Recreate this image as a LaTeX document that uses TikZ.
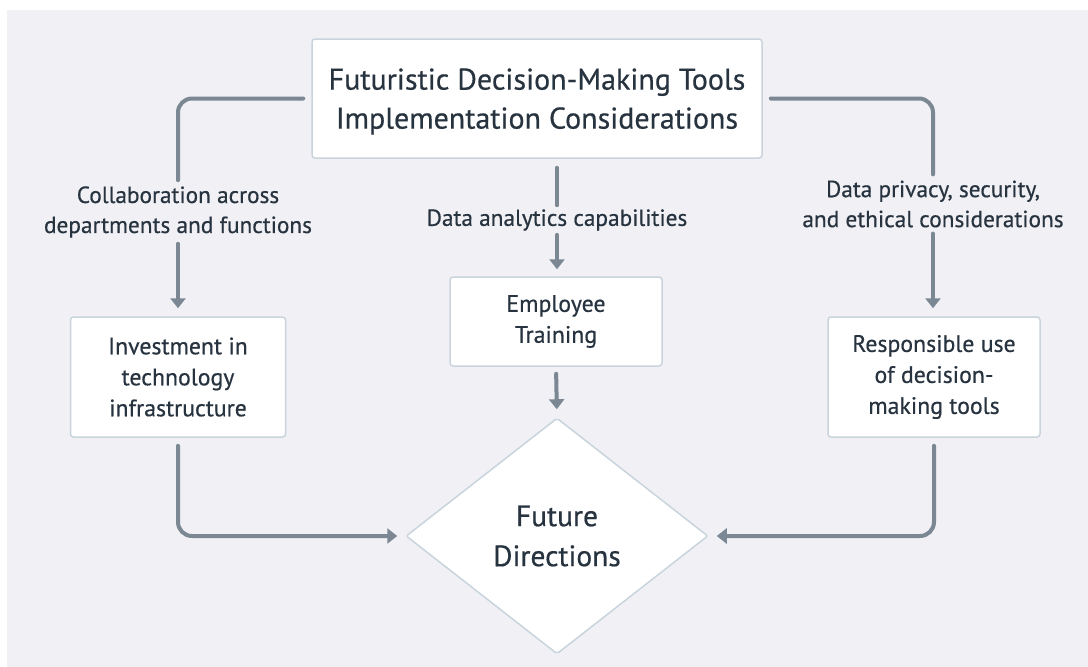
\documentclass[tikz,border=0pt]{standalone}
\usepackage{fontspec}
\setmainfont{PT Sans}[FakeBold=0.5]
\usetikzlibrary{arrows.meta}
\usetikzlibrary{shapes.geometric}
\definecolor{bgcol}{HTML}{F0F0F5}
\definecolor{textcol}{HTML}{27333F}
\definecolor{boxline}{HTML}{C9D4DD}
\definecolor{connline}{HTML}{7B8893}
\tikzset{
	box/.style={draw=boxline, line width=1.5pt, fill=white, rounded corners=3pt, align=center, text=textcol, inner sep=0pt, font=\fontsize{23.8}{31}\selectfont},
	lbl/.style={align=center, text=textcol, inner sep=0pt, font=\fontsize{23.3}{30}\selectfont},
	conn/.style={draw=connline, line width=4pt, line cap=round, rounded corners=14pt},
	arr/.style={conn, -{Triangle[width=15pt,length=10pt]}}
}

\begin{document}
\begin{tikzpicture}[x=1pt,y=-1pt]
		\useasboundingbox (0,0) rectangle (1088,667);
		\fill[bgcol] (7,10) rectangle (1088,667);
		\node[box, minimum width=450pt, minimum height=119pt, text depth=0pt, font=\fontsize{30}{39}\selectfont] (top) at (537,98.5) {Futuristic Decision-Making Tools\\Implementation Considerations};
		\node[box, minimum width=212pt, minimum height=89pt] (train) at (556,321.5) {Employee\\Training};
		\node[box, minimum width=215pt, minimum height=120pt] (invest) at (178,377) {Investment in\\technology\\infrastructure};
		\node[box, minimum width=212pt, minimum height=120pt] (resp) at (934,377) {Responsible use\\of decision-\\making tools};
		\node[box, shape=diamond, rounded corners=2pt, minimum width=302pt, minimum height=236pt, font=\fontsize{29.5}{40}\selectfont] (future) at (557,536) {Future\\Directions};
		\node[lbl] (collab) at (178,212) {Collaboration across\\departments and functions};
		\node[lbl] (analytics) at (557,220) {Data analytics capabilities};
		\node[lbl] (privacy) at (933,204) {Data privacy, security,\\and ethical considerations};
		\draw[conn, shorten <=8pt, shorten >=6pt] (top.west) -| (collab.north);
		\draw[arr, shorten <=6pt, shorten >=8pt] (collab.south) -- (invest.north);
		\draw[conn, shorten <=9pt, shorten >=4pt] (analytics.north |- top.south) -- (analytics.north);
		\draw[arr, shorten <=4pt, shorten >=7pt] (analytics.south) -- (analytics.south |- train.north);
		\draw[arr, shorten <=7pt, shorten >=8pt] (train.south) -- (future.north);
		\draw[conn, shorten <=8pt, shorten >=6pt] (top.east) -| (privacy.north);
		\draw[arr, shorten <=6pt, shorten >=8pt] (privacy.south) -- (privacy.south |- resp.north);
		\draw[arr, shorten <=8pt, shorten >=8pt] (invest.south) |- (future.west);
		\draw[arr, shorten <=8pt, shorten >=8pt] (resp.south) |- (future.east);
\end{tikzpicture}
\end{document}
